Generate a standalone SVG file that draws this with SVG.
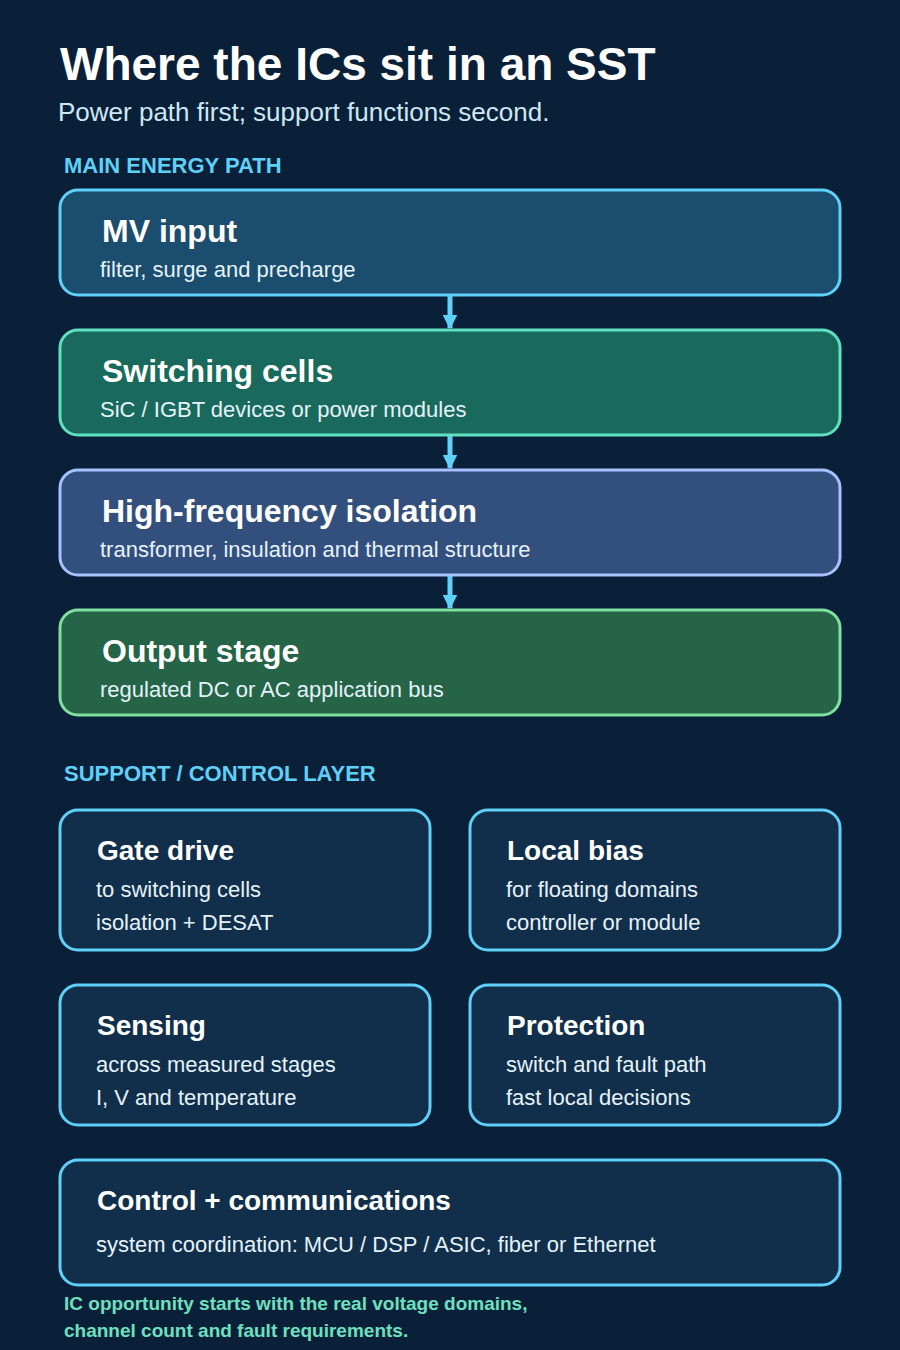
<svg xmlns="http://www.w3.org/2000/svg" width="900" height="1350" viewBox="0 0 900 1350">
<style>
text{font-family:"Liberation Sans",Arial,sans-serif}
.t{font-weight:bold;fill:#ffffff}
.s{fill:#e4f2fa;font-size:22px}
.sec{font-weight:bold;fill:#5fd0f8;font-size:22px}
.sup{fill:#112f4b;stroke:#5fd0f8;stroke-width:3}
.c{stroke:#5fd0f8;stroke-width:5;fill:none}
</style>
<defs><marker id="ah" viewBox="0 0 10 10" refX="9" refY="5" markerWidth="3" markerHeight="3" orient="auto"><path d="M0,0L10,5L0,10z" fill="#5fd0f8"/></marker></defs>
<rect width="900" height="1350" fill="#0a2038"/>
<text x="60" y="80" class="t" font-size="46">Where the ICs sit in an SST</text>
<text x="58" y="121" font-size="26" fill="#cde8f5">Power path first; support functions second.</text>
<text x="64" y="173" class="sec">MAIN ENERGY PATH</text>
<g id="connectors">
<line class="c" x1="450" y1="296" x2="450" y2="328" marker-end="url(#ah)"/>
<line class="c" x1="450" y1="436" x2="450" y2="468" marker-end="url(#ah)"/>
<line class="c" x1="450" y1="576" x2="450" y2="608" marker-end="url(#ah)"/>
</g>
<g id="mv"><rect x="60" y="190" width="780" height="105" rx="18" fill="#1a4d6e" stroke="#5fd0f8" stroke-width="3"/><text x="102" y="242" class="t" font-size="32">MV input</text><text x="100" y="277" class="s">filter, surge and precharge</text></g>
<g id="sw"><rect x="60" y="330" width="780" height="105" rx="18" fill="#196a5c" stroke="#5fe0c0" stroke-width="3"/><text x="102" y="382" class="t" font-size="32">Switching cells</text><text x="100" y="417" class="s">SiC / IGBT devices or power modules</text></g>
<g id="hf"><rect x="60" y="470" width="780" height="105" rx="18" fill="#334f7e" stroke="#a8c0ff" stroke-width="3"/><text x="102" y="522" class="t" font-size="32">High-frequency isolation</text><text x="100" y="557" class="s">transformer, insulation and thermal structure</text></g>
<g id="out"><rect x="60" y="610" width="780" height="105" rx="18" fill="#256446" stroke="#7fe0a0" stroke-width="3"/><text x="102" y="662" class="t" font-size="32">Output stage</text><text x="100" y="697" class="s">regulated DC or AC application bus</text></g>
<text x="64" y="781" class="sec">SUPPORT / CONTROL LAYER</text>
<g id="gate"><rect class="sup" x="60" y="810" width="370" height="140" rx="18"/><text x="97" y="860" class="t" font-size="28">Gate drive</text><text x="96" y="897" class="s">to switching cells</text><text x="96" y="930" class="s">isolation + DESAT</text></g>
<g id="bias"><rect class="sup" x="470" y="810" width="370" height="140" rx="18"/><text x="507" y="860" class="t" font-size="28">Local bias</text><text x="506" y="897" class="s">for floating domains</text><text x="506" y="930" class="s">controller or module</text></g>
<g id="sense"><rect class="sup" x="60" y="985" width="370" height="140" rx="18"/><text x="97" y="1035" class="t" font-size="28">Sensing</text><text x="96" y="1072" class="s">across measured stages</text><text x="96" y="1105" class="s">I, V and temperature</text></g>
<g id="prot"><rect class="sup" x="470" y="985" width="370" height="140" rx="18"/><text x="507" y="1035" class="t" font-size="28">Protection</text><text x="506" y="1072" class="s">switch and fault path</text><text x="506" y="1105" class="s">fast local decisions</text></g>
<g id="ctrl"><rect class="sup" x="60" y="1160" width="780" height="125" rx="18"/><text x="97" y="1210" class="t" font-size="28">Control + communications</text><text x="96" y="1252" class="s">system coordination: MCU / DSP / ASIC, fiber or Ethernet</text></g>
<text x="64" y="1310" font-size="19" font-weight="bold" fill="#6ee0c0">IC opportunity starts with the real voltage domains,</text>
<text x="64" y="1337" font-size="19" font-weight="bold" fill="#6ee0c0">channel count and fault requirements.</text>
</svg>
